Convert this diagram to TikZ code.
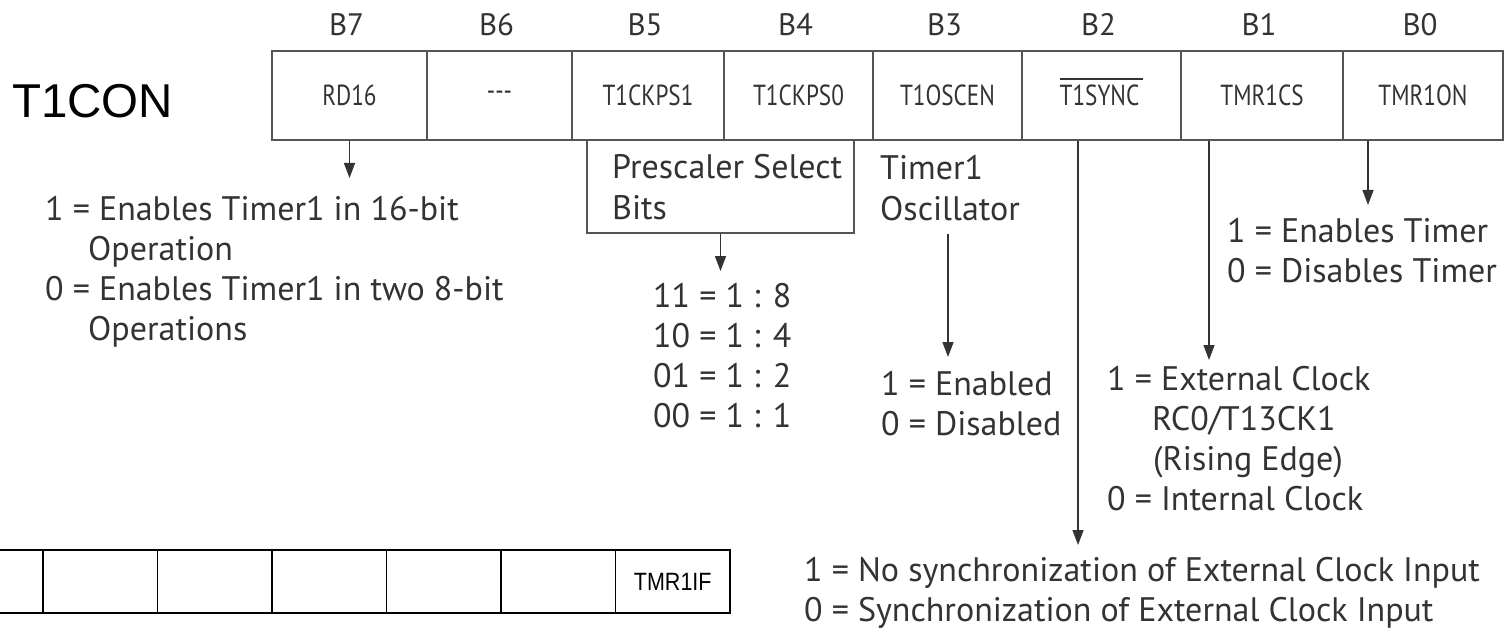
\documentclass[tikz,border=0pt]{standalone}
\usepackage{fontspec}
\usetikzlibrary{arrows.meta,positioning}
\setmainfont{PT Sans}
\newfontfamily\arialfont{Liberation Sans}
\newfontfamily\narrowfont{Liberation Sans}[FakeStretch=0.86]
\newfontfamily\cellfont{PT Sans}[FakeStretch=0.8]
\definecolor{regline}{HTML}{555555}
\definecolor{txt}{HTML}{333333}

\begin{document}
\begin{tikzpicture}[x=1pt,y=-1pt,
  cell/.style={draw=regline,line width=1.6pt,fill=white,minimum height=89pt,inner sep=0pt,text=txt,font=\cellfont\fontsize{29}{35}\selectfont},
  bitlbl/.style={text=txt,inner sep=0pt,xshift=-3pt,font=\fontsize{31}{37}\selectfont},
  desc/.style={text=txt,inner sep=0pt,anchor=base west,align=left,font=\fontsize{34}{40}\selectfont},
  arr/.style={draw=txt,line width=1.4pt,-{Triangle[length=15pt,width=11pt]}},
  flagcell/.style={draw=black,line width=1.8pt,minimum width=114.5pt,minimum height=63pt,inner sep=0pt,font=\narrowfont\fontsize{25}{30}\selectfont}]
\fill[white] (0,0) rectangle (1512,631);
\useasboundingbox (0,0) rectangle (1512,631);

% register name
\node (t1con) at (12,118) [anchor=base west][inner sep=0pt][font=\arialfont\fontsize{47.5}{57}\selectfont]{T1CON};

% prescaler box under B5/B4
\node (psel) at (720.5,186) [draw=regline][line width=1.6pt][minimum width=267pt,minimum height=94pt]{};

% T1CON register
\node (rd) at (349.5,95.3) [cell][minimum width=155pt]{RD16};
\node (nobit) at (499.5,95.3) [cell][minimum width=145pt]{---};
\node (ps1) at (648,95.3) [cell][minimum width=152pt]{T1CKPS1};
\node (ps0) at (798.5,95.3) [cell][minimum width=149pt]{T1CKPS0};
\node (osc) at (947.5,95.3) [cell][minimum width=149pt]{T1OSCEN};
\node (sync) at (1101.5,95.3) [cell][minimum width=159pt]{\setbox0\hbox{T1SYNC\kern4pt}\rlap{\smash{\rule[\dimexpr\ht0+5pt\relax]{\wd0}{1.4pt}}}\box0};
\node (cs) at (1262,95.3) [cell][minimum width=162pt]{TMR1CS};
\node (on) at (1423,95.3) [cell][minimum width=160pt]{TMR1ON};

% bit numbers
\node (b7) [bitlbl][above=14pt of rd]{B7};
\node (b6) [bitlbl][above=14pt of nobit]{B6};
\node (b5) [bitlbl][above=14pt of ps1]{B5};
\node (b4) [bitlbl][above=14pt of ps0]{B4};
\node (b3) [bitlbl][above=14pt of osc]{B3};
\node (b2) [bitlbl][above=14pt of sync]{B2};
\node (b1) [bitlbl][above=14pt of cs]{B1};
\node (b0) [bitlbl][above=14pt of on]{B0};

% descriptions (placed at the baseline of their last line)
\node (rdV) at (45,340) [desc]{1 = Enables Timer1 in 16-bit\\\hspace*{43pt}Operation\\0 = Enables Timer1 in two 8-bit\\\hspace*{43pt}Operations};
\node (pselT) at (612,219) [desc]{Prescaler Select\\Bits};
\node (pselV) at (653,427) [desc]{11 = 1 : 8\\10 = 1 : 4\\01 = 1 : 2\\00 = 1 : 1};
\node (oscT) at (880,220) [desc]{Timer1\\Oscillator};
\node (oscV) at (881,435) [desc]{1 = Enabled\\0 = Disabled};
\node (onV) at (1227,282) [desc]{1 = Enables Timer\\0 = Disables Timer};
\node (csV) at (1107,510) [desc]{1 = External Clock\\\hspace*{45pt}RC0/T13CK1\\\hspace*{46pt}(Rising Edge)\\0 = Internal Clock};
\node (syncV) at (804,621) [desc]{1 = No synchronization of External Clock Input\\0 = Synchronization of External Clock Input};

% arrow tips
\coordinate (rdTip) at (349.5,178);
\coordinate (pselTip) at (720.5,271);
\coordinate (oscTip) at (948,357);
\coordinate (syncTip) at (1078,545);
\coordinate (csTip) at (1209,360);
\coordinate (onTip) at (1368,205);

\draw [arr](rd.south)--(rdTip);
\draw [arr](psel.south)--(pselTip);
\draw [arr]([yshift=-13pt]oscT.south -| oscTip)--(oscTip);
\draw [arr](sync.south -| syncTip)--(syncTip);
\draw [arr](cs.south -| csTip)--(csTip);
\draw [arr](on.south -| onTip)--(onTip);

% PIR1 register (cut at the left edge)
\node (f7) at (-14.25,581.5) [flagcell]{};
\node (f6) at (100.25,581.5) [flagcell]{};
\node (f5) at (214.75,581.5) [flagcell]{};
\node (f4) at (329.25,581.5) [flagcell]{};
\node (f3) at (443.75,581.5) [flagcell]{};
\node (f2) at (558.25,581.5) [flagcell]{};
\node (f1) at (672.75,581.5) [flagcell]{TMR1IF};
\end{tikzpicture}
\end{document}
